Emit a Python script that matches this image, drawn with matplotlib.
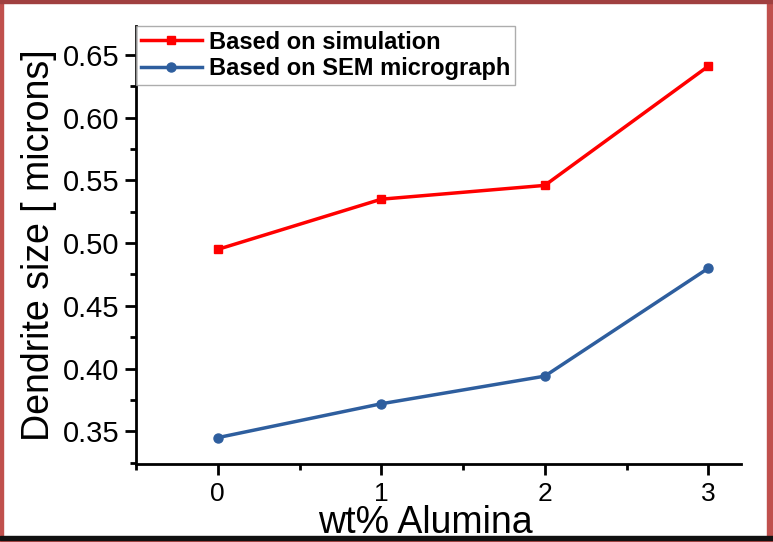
import matplotlib.pyplot as plt
from matplotlib.patches import Rectangle
from matplotlib.ticker import MultipleLocator

plt.rcParams['font.family'] = ['Liberation Sans', 'DejaVu Sans']

wt_alumina = [0, 1, 2, 3]
simulation = [0.495, 0.535, 0.546, 0.641]
sem = [0.345, 0.372, 0.394, 0.480]

fig = plt.figure(figsize=(7.73, 5.42), dpi=100)
ax = fig.add_axes([136 / 773, 1 - 464 / 542, (741 - 136) / 773, (464 - 26) / 542])

ax.plot(wt_alumina, simulation, color='#ff0000', lw=2.5, marker='s', ms=6,
        label='Based on simulation')
ax.plot(wt_alumina, sem, color='#2e5e9e', lw=2.5, marker='o', ms=6.5,
        label='Based on SEM micrograph')

ax.set_xlim(-0.5, 3.2)
ax.set_ylim(0.324, 0.673)
ax.xaxis.set_major_locator(MultipleLocator(1))
ax.xaxis.set_minor_locator(MultipleLocator(0.5))
ax.yaxis.set_major_locator(MultipleLocator(0.05))
ax.yaxis.set_minor_locator(MultipleLocator(0.025))
ax.yaxis.set_major_formatter(plt.FormatStrFormatter('%.2f'))

for s in ['top', 'right']:
    ax.spines[s].set_visible(False)
for s in ['left', 'bottom']:
    ax.spines[s].set_linewidth(2)
ax.tick_params(which='major', length=8, width=2, direction='out')
ax.tick_params(axis='y', which='major', labelsize=21, pad=4)
ax.tick_params(axis='x', which='major', labelsize=19, pad=5)
ax.tick_params(which='minor', length=4, width=2, direction='out')

xl = ax.set_xlabel('wt% Alumina', fontsize=27)
xl.set_va('baseline')
ax.xaxis.set_label_coords(0.478, -0.158)
ax.set_ylabel('Dendrite size [ microns]', fontsize=27, labelpad=4)

leg = ax.legend(loc='upper left', bbox_to_anchor=(0.0, 1.0), prop={'weight': 'bold', 'size': 17},
                frameon=True, fancybox=False, borderaxespad=0, handlelength=2.6,
                handletextpad=0.3, borderpad=0.2, labelspacing=0.15)
leg.get_frame().set_edgecolor('#999999')
leg.get_frame().set_linewidth(1)

# picture frame
red = '#c0504d'
fig.patches.append(Rectangle((0, 0), 3 / 773, 1, transform=fig.transFigure, color=red))
fig.patches.append(Rectangle((767 / 773, 0), 6 / 773, 1, transform=fig.transFigure, color=red))
fig.patches.append(Rectangle((0, 1 - 3 / 542), 1, 3 / 542, transform=fig.transFigure, color='#a04040'))
fig.patches.append(Rectangle((0, 0), 1, 2 / 542, transform=fig.transFigure, color=red))
fig.patches.append(Rectangle((0, 2 / 542), 1, 4 / 542, transform=fig.transFigure, color='#111111'))

fig.savefig('out.png', dpi=100)
